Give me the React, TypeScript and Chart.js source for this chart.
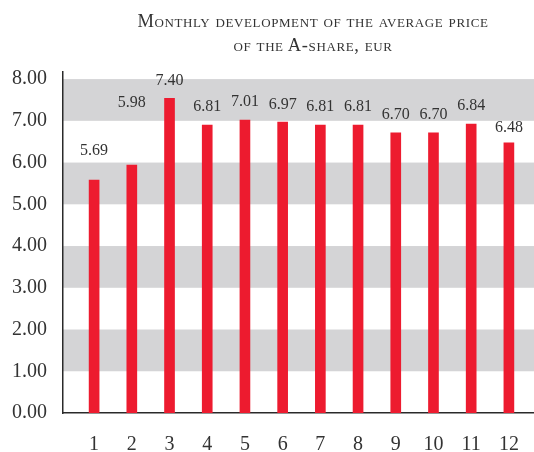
import React, { useEffect, useRef } from "react";
import { Chart, registerables } from "chart.js";

Chart.register(...registerables);

// ---- data ----
const months: string[] = ["1", "2", "3", "4", "5", "6", "7", "8", "9", "10", "11", "12"];
const barValues: number[] = [5.58, 5.94, 7.54, 6.9, 7.02, 6.97, 6.9, 6.9, 6.71, 6.71, 6.92, 6.47];
const valueLabels: string[] = ["5.69", "5.98", "7.40", "6.81", "7.01", "6.97", "6.81", "6.81", "6.70", "6.70", "6.84", "6.48"];
const yTickValues: number[] = [0, 1, 2, 3, 4, 5, 6, 7, 8];
const shadedBands: number[][] = [[1, 2], [3, 4], [5, 6], [7, 8]];
const titleLines: string[] = ["Monthly development of the average price", "of the A-share, eur"];

// ---- styling ----
const labelGaps: number[] = [29, 62, 17, 18, 18, 17, 18, 18, 18, 18, 18, 15];
const RED = "#ED1B2F";
const GREY = "#D4D4D6";
const TEXT = "#333333";
const FONT = "'Liberation Serif', 'DejaVu Serif', serif";

const bandsPlugin = {
  id: "bands",
  beforeDraw(chart: any) {
    const { ctx, chartArea, scales } = chart;
    const y = scales.y;
    ctx.save();
    ctx.fillStyle = GREY;
    shadedBands.forEach(([lo, hi]) => {
      const top = y.getPixelForValue(hi);
      const bottom = y.getPixelForValue(lo);
      ctx.fillRect(chartArea.left, top, chartArea.right - chartArea.left, bottom - top);
    });
    ctx.restore();
  },
};

const valueLabelPlugin = {
  id: "valueLabels",
  afterDatasetsDraw(chart: any) {
    const { ctx } = chart;
    const meta = chart.getDatasetMeta(0);
    ctx.save();
    ctx.font = `16px ${FONT}`;
    ctx.fillStyle = TEXT;
    ctx.textAlign = "center";
    ctx.textBaseline = "middle";
    meta.data.forEach((bar: any, i: number) => {
      ctx.fillText(valueLabels[i], bar.x, bar.y - labelGaps[i]);
    });
    ctx.restore();
  },
};

export default function App() {
  const canvasRef = useRef<HTMLCanvasElement | null>(null);

  useEffect(() => {
    if (!canvasRef.current) return;
    const chart = new Chart(canvasRef.current, {
      type: "bar",
      data: {
        datasets: [
          {
            data: barValues.map((v, i) => ({ x: i + 1, y: v })),
            backgroundColor: RED,
            borderWidth: 0,
            barThickness: 10,
          } as any,
        ],
      },
      options: {
        animation: false,
        responsive: false,
        layout: { autoPadding: false, padding: { top: 72, left: 0, right: 0, bottom: 0 } },
        plugins: {
          legend: { display: false },
          title: { display: false },
          tooltip: { enabled: false },
        },
        scales: {
          x: {
            type: "linear",
            offset: false,
            min: 0.175,
            max: 12.666,
            grid: { display: false, drawTicks: false, offset: false },
            border: { display: true, color: "#2a2a2a", width: 1.5 },
            afterBuildTicks: (axis: any) => {
              axis.ticks = months.map((_, i) => ({ value: i + 1 }));
            },
            afterFit: (axis: any) => {
              axis.height = 39;
              axis.paddingLeft = 0;
              axis.paddingRight = 0;
            },
            ticks: {
              autoSkip: false,
              maxRotation: 0,
              includeBounds: false,
              padding: 20,
              color: TEXT,
              font: { family: FONT, size: 20 },
              callback: (v: any) => months[Math.round(Number(v)) - 1] ?? "",
            },
          } as any,
          y: {
            type: "linear",
            min: 0,
            max: 8.17,
            grid: { display: false, drawTicks: false },
            border: { display: true, color: "#2a2a2a", width: 1.5 },
            afterBuildTicks: (axis: any) => {
              axis.ticks = yTickValues.map((v) => ({ value: v }));
            },
            afterFit: (axis: any) => {
              axis.width = 63;
              axis.paddingTop = 0;
              axis.paddingBottom = 0;
            },
            ticks: {
              includeBounds: false,
              padding: 16,
              color: TEXT,
              font: { family: FONT, size: 20 },
              callback: (v: any) => Number(v).toFixed(2),
            },
          } as any,
        },
      },
      plugins: [bandsPlugin, valueLabelPlugin],
    });
    return () => chart.destroy();
  }, []);

  return (
    <div style={{ position: "fixed", left: 0, top: 0, width: 534, height: 452, background: "#fff" }}>
      <canvas ref={canvasRef} width={534} height={452} style={{ display: "block" }} />
      <div
        style={{
          position: "absolute",
          top: 9,
          left: 92,
          width: 442,
          textAlign: "center",
          fontFamily: FONT,
          fontSize: 18.5,
          letterSpacing: "0.6px",
          lineHeight: "24px",
          fontVariant: "small-caps",
          color: TEXT,
        }}
      >
        {titleLines.map((t, i) => (
          <div key={i}>{t}</div>
        ))}
      </div>
    </div>
  );
}
